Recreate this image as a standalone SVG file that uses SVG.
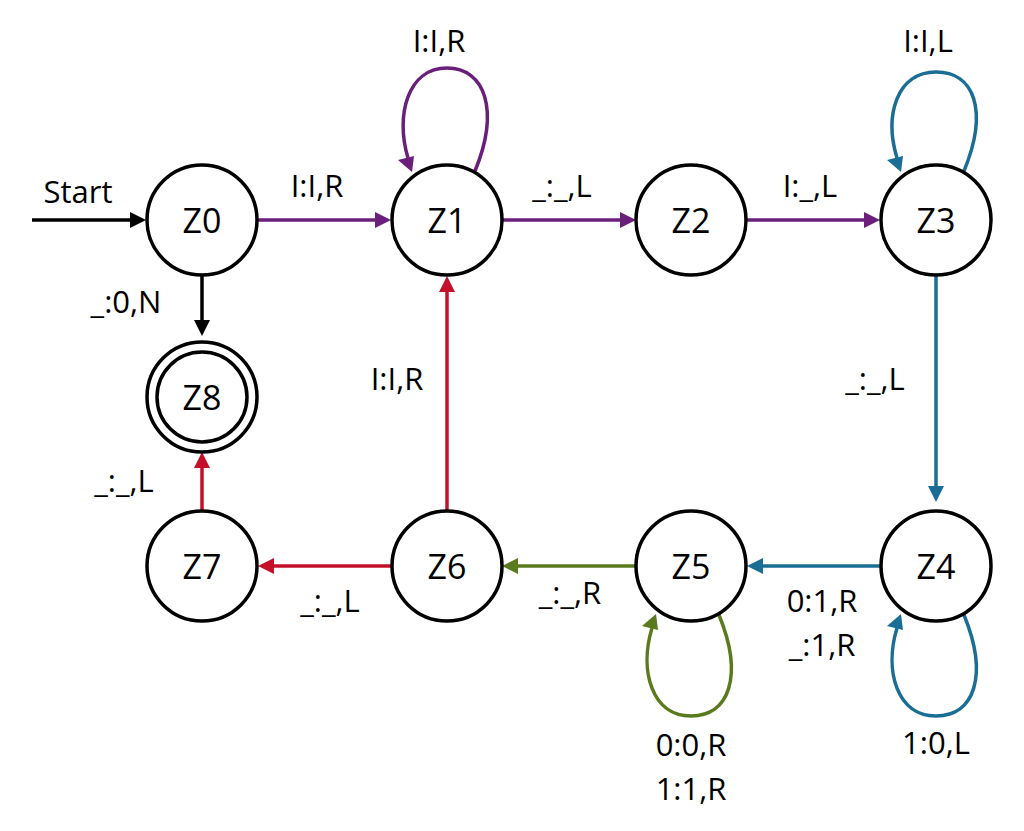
<svg xmlns="http://www.w3.org/2000/svg" width="1024" height="831" viewBox="0 0 1024 831">
<style>
.n{fill:#fff;stroke:#000;stroke-width:3.5}
.t{font-family:"Open Sans",sans-serif;font-size:34px;text-anchor:middle;dominant-baseline:central}
.l{font-family:"Open Sans",sans-serif;font-size:31px;text-anchor:middle}
.e{fill:none;stroke-width:3.5}
</style>
<rect width="1024" height="831" fill="#fff"/>
<g id="connectors">
<g fill="#000"><path class="e" stroke="#000" d="M32 220H132"/><path d="M146 220l-16-8v16z"/></g>
<g fill="#000"><path class="e" stroke="#000" d="M202 275V322"/><path d="M202 336l-8-16h16z"/></g>
<g fill="#6a1f7a" stroke="#6a1f7a">
<path class="e" d="M257 220H377"/><path d="M391 220l-16-8v16z" stroke="none"/>
<path class="e" d="M502 220H622"/><path d="M636 220l-16-8v16z" stroke="none"/>
<path class="e" d="M746 220H866"/><path d="M880 220l-16-8v16z" stroke="none"/>
<path class="e" d="M475 171C500 110 485 68 447 68C408 68 395 115 408 158"/><path d="M412 172l-14-12l16-4z" stroke="none"/>
</g>
<g fill="#1a6e96" stroke="#1a6e96">
<path class="e" d="M936 275V488"/><path d="M936 502l-8-16h16z" stroke="none"/>
<path class="e" d="M881 566H761"/><path d="M747 566l16-8v16z" stroke="none"/>
<path class="e" d="M964 171C989 110 974 72 936 72C897 72 884 115 897 158"/><path d="M901 172l-14-12l16-4z" stroke="none"/>
<path class="e" d="M964 615C989 676 974 716 936 716C897 716 884 671 897 628"/><path d="M901 614l-14 12l16 4z" stroke="none"/>
</g>
<g fill="#5a7a1e" stroke="#5a7a1e">
<path class="e" d="M636 566H516"/><path d="M502 566l16-8v16z" stroke="none"/>
<path class="e" d="M719 615C744 676 729 716 691 716C652 716 639 671 652 628"/><path d="M656 614l-14 12l16 4z" stroke="none"/>
</g>
<g fill="#c4102a" stroke="#c4102a">
<path class="e" d="M392 566H272"/><path d="M258 566l16-8v16z" stroke="none"/>
<path class="e" d="M447 511V290"/><path d="M447 276l-8 16h16z" stroke="none"/>
<path class="e" d="M202 511V466"/><path d="M202 452l-8 16h16z" stroke="none"/>
</g>
</g>
<g id="labels">
<text class="l" x="78" y="203" font-size="33">Start</text>
<text class="l" x="317" y="197">I:I,R</text>
<text class="l" x="439" y="52">I:I,R</text>
<text class="l" x="562" y="197">_:_,L</text>
<text class="l" x="810" y="197">I:_,L</text>
<text class="l" x="928" y="52">I:I,L</text>
<text class="l" x="126" y="313">_:0,N</text>
<text class="l" x="397" y="390">I:I,R</text>
<text class="l" x="875" y="390">_:_,L</text>
<text class="l" x="124" y="492">_:_,L</text>
<text class="l" x="330" y="612">_:_,L</text>
<text class="l" x="570" y="604">_:_,R</text>
<text class="l" x="822" y="612">0:1,R</text>
<text class="l" x="822" y="656">_:1,R</text>
<text class="l" x="936" y="754">1:0,L</text>
<text class="l" x="691" y="756">0:0,R</text>
<text class="l" x="691" y="800">1:1,R</text>
</g>
<g id="Z0"><circle class="n" cx="202" cy="220" r="55"/><text class="t" x="202" y="220">Z0</text></g>
<g id="Z1"><circle class="n" cx="447" cy="220" r="55"/><text class="t" x="447" y="220">Z1</text></g>
<g id="Z2"><circle class="n" cx="691" cy="220" r="55"/><text class="t" x="691" y="220">Z2</text></g>
<g id="Z3"><circle class="n" cx="936" cy="220" r="55"/><text class="t" x="936" y="220">Z3</text></g>
<g id="Z8"><circle class="n" cx="202" cy="397" r="55"/><circle class="n" cx="202" cy="397" r="45" stroke-width="2.5"/><text class="t" x="202" y="397">Z8</text></g>
<g id="Z7"><circle class="n" cx="202" cy="566" r="55"/><text class="t" x="202" y="566">Z7</text></g>
<g id="Z6"><circle class="n" cx="447" cy="566" r="55"/><text class="t" x="447" y="566">Z6</text></g>
<g id="Z5"><circle class="n" cx="691" cy="566" r="55"/><text class="t" x="691" y="566">Z5</text></g>
<g id="Z4"><circle class="n" cx="936" cy="566" r="55"/><text class="t" x="936" y="566">Z4</text></g>
</svg>
